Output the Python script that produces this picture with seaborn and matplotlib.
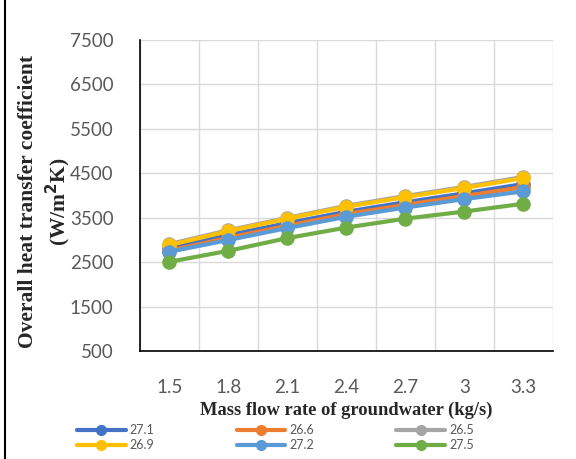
import numpy as np
import pandas as pd
import matplotlib
matplotlib.use("Agg")
import matplotlib.pyplot as plt
import seaborn as sns
from matplotlib.lines import Line2D

flow = ["1.5", "1.8", "2.1", "2.4", "2.7", "3", "3.3"]
series = ["27.1", "26.6", "26.5", "26.9", "27.2", "27.5"]
u_271 = [2818, 3110, 3380, 3636, 3850, 4050, 4259]
u_266 = [2758, 3050, 3320, 3584, 3790, 3990, 4191]
u_265 = [2910, 3220, 3500, 3770, 3990, 4195, 4420]
u_269 = [2886, 3200, 3480, 3748, 3966, 4170, 4394]
u_272 = [2735, 3000, 3269, 3523, 3730, 3920, 4095]
u_275 = [2510, 2757, 3043, 3280, 3480, 3640, 3816]
colors = ["#4472C4", "#ED7D31", "#A5A5A5", "#FFC000", "#5B9BD5", "#70AD47"]

vals = [u_271, u_266, u_265, u_269, u_272, u_275]
df = pd.DataFrame({
    "flow": flow * len(series),
    "U": np.concatenate(vals),
    "T": np.repeat(series, len(flow)),
})

sns.set_style("white")
plt.rcParams["font.family"] = ["Lato", "DejaVu Sans"]

fig = plt.figure(figsize=(5.76, 4.59), dpi=100)
ax = fig.add_axes([0.243, 0.235, 0.717, 0.678])

sns.lineplot(data=df, x="flow", y="U", hue="T", hue_order=series,
             palette=colors, marker="o", markersize=10.5, linewidth=3,
             markeredgewidth=0, sort=False, legend=False, ax=ax)

ax.set_ylim(500, 7500)
ax.set_yticks(range(500, 7501, 1000))
ax.set_xlim(-0.5, 6.5)
ax.set_xticks(range(len(flow)))
ax.set_xticklabels(flow)
ax.set_xticks(np.arange(-0.5, 6.6, 1), minor=True)
ax.grid(False)
ax.grid(axis="y", which="major", color="#d9d9d9", lw=1)
ax.grid(axis="x", which="minor", color="#d9d9d9", lw=1)
ax.set_axisbelow(True)

for s in ["top", "right"]:
    ax.spines[s].set_visible(False)
for s in ["left", "bottom"]:
    ax.spines[s].set_color("black")
    ax.spines[s].set_linewidth(1.2)

ax.tick_params(axis="y", which="major", length=5, width=1.2, color="black",
               direction="out", labelsize=13.5, labelcolor="#595959", pad=14)
ax.tick_params(axis="x", which="major", length=0, labelsize=13.5,
               labelcolor="#595959", pad=20)
ax.tick_params(axis="x", which="minor", length=5, width=1.2, color="black",
               direction="out")

ax.set_xlabel("Mass flow rate of groundwater (kg/s)", fontsize=13.3,
              fontweight="bold", family="Liberation Serif", labelpad=4)
ax.set_ylabel("Overall heat transfer coefficient\n(W/m$\\mathbf{^2}$K)",
              fontsize=15.5, fontweight="bold", family="Liberation Serif",
              linespacing=1.25)
ax.yaxis.set_label_coords(-0.163, 0.48)

order = [0, 3, 1, 4, 2, 5]
handles = [Line2D([], [], color=colors[i], lw=3, marker="o", markersize=7)
           for i in order]
labels = [series[i] for i in order]
fig.legend(handles, labels, ncol=3, loc="lower center",
           bbox_to_anchor=(0.478, -0.008), frameon=False, fontsize=9,
           handlelength=3.9, columnspacing=6.6, labelspacing=0.25,
           handletextpad=0.3, labelcolor="#595959")

fig.add_artist(Line2D([0.009, 0.009], [0, 1], color="black", lw=1.5))

fig.savefig("out.png", dpi=100)
